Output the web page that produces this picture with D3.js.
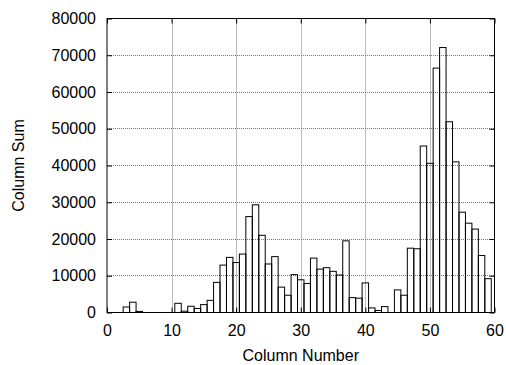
<!DOCTYPE html>
<html>
<head>
<meta charset="utf-8">
<script src="https://cdn.jsdelivr.net/npm/d3@7"></script>
<style>
  body { margin: 0; background: #fff; }
  text { font-family: "Liberation Sans", Arial, sans-serif; font-size: 16px; fill: #000; }
</style>
</head>
<body>
<div id="chart"></div>
<script>
// column numbers and their sums
const columns = d3.range(1, 60);
const sums = [
  0, 0, 1500, 2800, 300, 0, 0, 0, 0, 0,
  2500, 350, 1700, 1100, 2150, 3300, 8200, 12900, 15000, 13600,
  15900, 26100, 29300, 21000, 13200, 15200, 6900, 4700, 10300, 8900,
  7900, 14800, 11800, 12200, 11200, 10200, 19500, 4050, 3900, 8050,
  1250, 550, 1600, 0, 6150, 4700, 17500, 17350, 45300, 40600,
  66500, 72100, 51900, 41000, 27300, 24300, 22700, 15500, 9200
];
const xTicks = [0, 10, 20, 30, 40, 50, 60];
const yTicks = [0, 10000, 20000, 30000, 40000, 50000, 60000, 70000, 80000];

const W = 506, H = 365;
const margin = {top: 18.5, right: 11.5, bottom: 52.5, left: 107};
const width = W - margin.left - margin.right;
const height = H - margin.top - margin.bottom;

const svg = d3.select("#chart").append("svg")
  .attr("width", W)
  .attr("height", H);
const g = svg.append("g")
  .attr("transform", `translate(${margin.left},${margin.top})`);

const xScale = d3.scaleLinear().domain([0, 60]).range([0, width]);
const yScale = d3.scaleLinear().domain([0, 80000]).range([height, 0]);

// grid
g.append("g").selectAll("line")
  .data(xTicks.slice(1, -1))
  .join("line")
  .attr("x1", d => Math.round(xScale(d)) + 0.5)
  .attr("x2", d => Math.round(xScale(d)) + 0.5)
  .attr("y1", 0).attr("y2", height)
  .attr("stroke", "#777").attr("stroke-dasharray", "1,1");

g.append("g").selectAll("line")
  .data(yTicks.slice(1, -1))
  .join("line")
  .attr("y1", d => Math.round(yScale(d)))
  .attr("y2", d => Math.round(yScale(d)))
  .attr("x1", 0).attr("x2", width)
  .attr("stroke", "#777").attr("stroke-dasharray", "1,1");

// boxes (unfilled, centred on each column)
g.append("g").selectAll("rect")
  .data(columns)
  .join("rect")
  .attr("x", (d) => xScale(d - 0.5))
  .attr("width", xScale(1) - xScale(0))
  .attr("y", (d, i) => yScale(sums[i]))
  .attr("height", (d, i) => height - yScale(sums[i]))
  .attr("fill", "none")
  .attr("stroke", "#000")
  .attr("stroke-width", 1);

// axes with inward ticks, mirrored
const tl = 5;
g.append("g")
  .attr("transform", `translate(0,${height})`)
  .call(d3.axisBottom(xScale).tickValues(xTicks).tickSizeInner(-tl).tickSizeOuter(0).tickPadding(12))
  .call(a => a.select(".domain").remove());
g.append("g")
  .call(d3.axisTop(xScale).tickValues(xTicks).tickSizeInner(-tl).tickSizeOuter(0).tickFormat(""))
  .call(a => a.select(".domain").remove());
g.append("g")
  .call(d3.axisLeft(yScale).tickValues(yTicks).tickSizeInner(-tl).tickSizeOuter(0).tickPadding(11).tickFormat(d3.format("d")))
  .call(a => a.select(".domain").remove());
g.append("g")
  .attr("transform", `translate(${width},0)`)
  .call(d3.axisRight(yScale).tickValues(yTicks).tickSizeInner(-tl).tickSizeOuter(0).tickFormat(""))
  .call(a => a.select(".domain").remove());

g.selectAll(".tick text")
  .style("font-family", "'Liberation Sans', Arial, sans-serif")
  .style("font-size", "16px")
  .attr("fill", "#000");

// frame
g.append("rect")
  .attr("x", 0).attr("y", 0)
  .attr("width", width).attr("height", height)
  .attr("fill", "none").attr("stroke", "#000");

// axis titles
svg.append("text")
  .attr("x", margin.left + width / 2)
  .attr("y", 361)
  .attr("text-anchor", "middle")
  .text("Column Number");

svg.append("text")
  .attr("transform", `translate(24,${margin.top + height / 2}) rotate(-90)`)
  .attr("text-anchor", "middle")
  .text("Column Sum");
</script>
</body>
</html>
